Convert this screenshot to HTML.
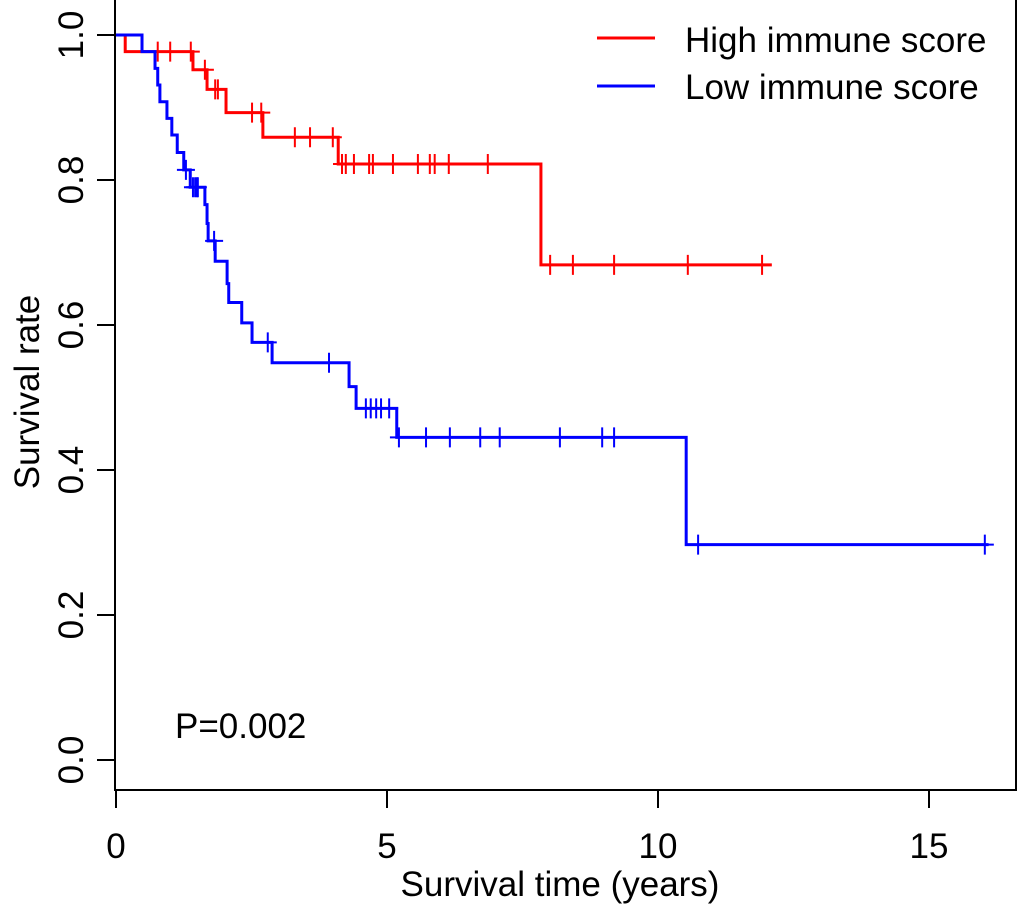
<!DOCTYPE html>
<html><head><meta charset="utf-8"><style>
body{margin:0;background:#fff}
svg{display:block;font-family:"Liberation Sans",Arial,sans-serif}
</style></head><body>
<svg id="chart" width="1020" height="917" viewBox="0 0 1020 917">
<g id="axes"></g>
<g id="curves"></g>
<text x="175" y="738" font-size="35">P=0.002</text>
<text x="560" y="896" font-size="35" text-anchor="middle">Survival time (years)</text>
<text transform="translate(39,392) rotate(-90)" font-size="35" text-anchor="middle">Survival rate</text>
<g>
<line x1="597" y1="38" x2="655" y2="38" stroke="#f00" stroke-width="3"/>
<text x="685" y="52" font-size="35">High immune score</text>
<line x1="597" y1="86" x2="655" y2="86" stroke="#00f" stroke-width="3"/>
<text x="685" y="99" font-size="35">Low immune score</text>
</g>
</svg>
<script>
const xTicks=[0,5,10,15];
const yTicks=[0,0.2,0.4,0.6,0.8,1.0];
const highTimes=[0.17,1.42,1.68,2.03,2.71,4.10,7.84];
const highSurv=[0.977,0.952,0.925,0.893,0.859,0.822,0.683];
const highCensor=[0.77,1.00,1.38,1.64,1.83,1.88,2.51,2.68,3.30,3.58,4.00,4.17,4.24,4.39,4.67,4.74,5.11,5.57,5.79,5.88,6.14,6.86,8.01,8.43,9.19,10.55,11.92];
const highEnd=12.1;
const lowTimes=[0.48,0.72,0.77,0.81,0.94,1.03,1.13,1.25,1.37,1.64,1.68,1.70,1.83,2.05,2.08,2.32,2.51,2.88,4.30,4.43,5.18,10.52];
const lowSurv=[0.977,0.954,0.931,0.908,0.885,0.862,0.838,0.814,0.790,0.766,0.740,0.716,0.688,0.657,0.631,0.603,0.576,0.548,0.515,0.485,0.445,0.297];
const lowCensor=[1.29,1.42,1.46,1.49,1.51,1.81,2.80,3.93,4.61,4.70,4.80,4.89,5.04,5.22,5.72,6.16,6.72,7.08,8.19,8.97,9.19,10.74,16.03];
const lowEnd=16.1;

const X=t=>116+t*54.2, Y=s=>760-s*725;
const NS="http://www.w3.org/2000/svg";
function mk(tag,attrs,parent){const e=document.createElementNS(NS,tag);for(const k in attrs)e.setAttribute(k,attrs[k]);parent.appendChild(e);return e;}
const ax=document.getElementById('axes');
let p=mk('path',{d:`M115,0 V790 H1016 V0`,fill:'none',stroke:'#000','stroke-width':2},ax);


xTicks.forEach(v=>{
 const l=mk('line',{x1:X(v),x2:X(v),y1:790,y2:808,stroke:'#000','stroke-width':2},ax);
 
 
 const t=mk('text',{x:X(v),y:858,'font-size':35,'text-anchor':'middle'},ax);t.textContent=v;
 
 
});
yTicks.forEach(v=>{
 const l=mk('line',{x1:97,x2:115,y1:Y(v),y2:Y(v),stroke:'#000','stroke-width':2},ax);
 
 
 const t=mk('text',{transform:`translate(83,${Y(v)}) rotate(-90)`,'font-size':35,'text-anchor':'middle'},ax);t.textContent=v.toFixed(1);
 
 
});
function survAt(times,surv,t){let s=1;for(let i=0;i<times.length;i++)if(times[i]<=t)s=surv[i];return s;}
const cg=document.getElementById('curves');
function curve(times,surv,cens,end,color,name){
 let d=`M${X(0)},${Y(1)}`;
 times.forEach((t,i)=>{d+=` H${X(t)} V${Y(surv[i])}`;});
 d+=` H${X(end)}`;
 const pa=mk('path',{d,fill:'none',stroke:color,'stroke-width':3},cg);
 
 
 cens.forEach(t=>{
  const y=Y(survAt(times,surv,t)),x=X(t);
  const c=mk('path',{d:`M${x},${y-10} V${y+10} M${x-9},${y} H${x+9}`,stroke:color,'stroke-width':2},cg);
  
  
 });
}
curve(highTimes,highSurv,highCensor,highEnd,'#f00','high-score');
curve(lowTimes,lowSurv,lowCensor,lowEnd,'#00f','low-score');
</script>
</body></html>
